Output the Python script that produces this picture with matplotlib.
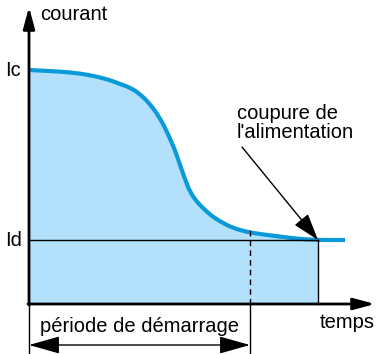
import matplotlib.pyplot as plt
from matplotlib.patches import FancyArrowPatch, PathPatch
from matplotlib.path import Path

plt.rcParams['font.family'] = ['Liberation Sans', 'DejaVu Sans']

# courant de démarrage (temps, courant) relevés le long de la courbe
temps = [0, 21, 41, 61, 81, 91, 101, 111, 121, 131, 139, 146, 151, 156,
         161, 168, 176, 184, 194, 204, 218, 231, 241, 254, 271, 289, 316]
courant = [234, 233, 231.7, 229, 224, 220, 216.5, 210, 200, 186, 170, 154,
           139, 125, 112, 102, 94, 87, 81, 76, 72, 70, 68.7, 67, 65, 64, 64]

Ic = 234
Id = 64
t_coupure = 289
t_demarrage = 221


def courbe_lisse(xs, ys):
    # tracé quadratique : les points relevés servent de points de contrôle
    pts = list(zip(xs, ys))
    verts = [pts[0]]
    codes = [Path.MOVETO]
    for i in range(1, len(pts) - 1):
        mid = ((pts[i][0] + pts[i + 1][0]) / 2, (pts[i][1] + pts[i + 1][1]) / 2)
        verts += [pts[i], mid]
        codes += [Path.CURVE3, Path.CURVE3]
    verts.append(pts[-1])
    codes.append(Path.LINETO)
    return Path(verts, codes)


fig = plt.figure(figsize=(3.76, 3.54), dpi=100)
ax = fig.add_axes([0, 0, 1, 1])
ax.set_xlim(-29, 347)
ax.set_ylim(-50, 304)
ax.axis('off')

bleu = '#0a9ad9'
bleu_clair = '#b3e1fb'

# surface sous la courbe jusqu'à la coupure
t_fill = [t for t in temps if t <= t_coupure]
c_fill = courant[:len(t_fill)]
ax.fill_between(t_fill, c_fill, 0, color=bleu_clair, lw=0, zorder=1)
ax.add_patch(PathPatch(courbe_lisse(temps, courant), fill=False,
                       edgecolor=bleu, lw=3, capstyle='butt', zorder=3))

# niveaux Id et coupure
ax.plot([0, t_coupure], [Id, Id], color='black', lw=1, zorder=4)
ax.plot([t_coupure, t_coupure], [0, Id], color='black', lw=1, zorder=4)

# fin de la période de démarrage
ax.plot([t_demarrage, t_demarrage], [0, 74], color='black', lw=1,
        ls=(0, (4, 3)), zorder=4)
ax.plot([t_demarrage, t_demarrage], [-49, 0], color='black', lw=1, zorder=4)
ax.plot([0, 0], [-49, 0], color='black', lw=1, zorder=4)

# axes
ax.annotate('', xy=(0, 297), xytext=(0, -1),
            arrowprops=dict(arrowstyle='-|>,head_length=1.3,head_width=0.35',
                            color='black', lw=2, shrinkA=0, shrinkB=0), zorder=5)
ax.annotate('', xy=(346, 0), xytext=(-1, 0),
            arrowprops=dict(arrowstyle='-|>,head_length=1.3,head_width=0.35',
                            color='black', lw=2, shrinkA=0, shrinkB=0), zorder=5)

# flèche double de la période de démarrage
ax.add_patch(FancyArrowPatch((0, -41), (t_demarrage, -41),
                             arrowstyle='<|-|>,head_length=1.6,head_width=0.45',
                             color='black', lw=1, shrinkA=0, shrinkB=0,
                             mutation_scale=12, zorder=5))

fs = 14.5
ax.text(11, 289, 'courant', fontsize=fs, va='center', ha='left')
ax.text(-24, Ic, 'Ic', fontsize=fs, va='center', ha='left')
ax.text(-24, Id, 'Id', fontsize=fs, va='center', ha='left')
ax.text(346, -18, 'temps', fontsize=fs, va='center', ha='right')
ax.text(t_demarrage / 2, -22, 'période de démarrage', fontsize=fs,
        va='center', ha='center')

ax.text(208, 181, "coupure de\nl'alimentation", fontsize=fs, va='center',
        ha='left', linespacing=0.95)
ax.add_patch(FancyArrowPatch((213, 157), (t_coupure, Id),
                             arrowstyle='-|>,head_length=1.4,head_width=0.45',
                             color='black', lw=1, shrinkA=0, shrinkB=0,
                             mutation_scale=12, zorder=5))

fig.savefig('out.png', dpi=100)
